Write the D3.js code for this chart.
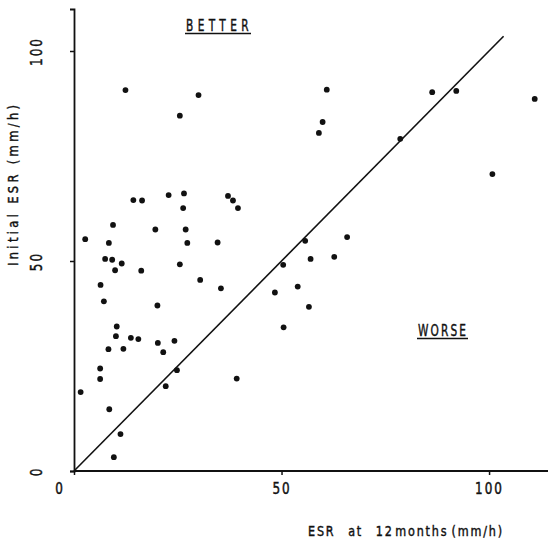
<!DOCTYPE html>
<html>
<head>
<meta charset="utf-8">
<script src="https://cdn.jsdelivr.net/npm/d3@7"></script>
<style>
  body { margin: 0; background: #fff; }
  svg { display: block; }
  text { font-family: "DejaVu Sans", "Liberation Sans", sans-serif; fill: #111; stroke: #111; stroke-width: 0.45; }
</style>
</head>
<body>
<div id="chart"></div>
<script>
// ESR at 12 months (x) vs initial ESR (y), mm/h
const esr12 = [
  14.3, 16.4, 22.8, 26.5, 37.1, 38.3, 39.5, 26.3, 9.4, 19.6, 26.9, 2.7, 8.4, 27.3, 34.6,
  7.5, 9.2, 11.5, 9.9, 16.2, 25.5, 30.4, 35.4, 6.4, 7.2, 20.1, 10.3,
  10.1, 13.7, 15.5, 8.3, 11.9, 20.2, 21.5, 24.2, 24.8, 22.1, 6.3, 6.3, 1.6, 8.5, 11.2, 9.6, 39.2,
  12.4, 30.0, 25.5,
  60.9, 59.9, 59.0, 86.3, 92.1, 111.0, 78.6, 100.8, 55.7, 65.8, 57.0, 62.7, 50.4,
  48.4, 53.9, 56.6, 50.5
];
const esrInitial = [
  64.5, 64.4, 65.7, 66.1, 65.5, 64.4, 62.6, 62.6, 58.6, 57.5, 57.5, 55.2, 54.3, 54.3, 54.4,
  50.5, 50.3, 49.4, 47.8, 47.7, 49.2, 45.5, 43.5, 44.3, 40.4, 39.4, 34.4,
  32.1, 31.7, 31.4, 29.0, 29.1, 30.5, 28.3, 31.0, 24.0, 20.2, 24.4, 21.9, 18.8, 14.7, 8.8, 3.3, 22.0,
  90.7, 89.5, 84.6,
  90.8, 83.1, 80.5, 90.2, 90.5, 88.6, 79.1, 70.7, 54.8, 55.7, 50.5, 51.0, 49.1,
  42.5, 43.9, 39.1, 34.2
];
const xTicks = [0, 50, 100];
const yTicks = [0, 50, 100];
const lineEnd = 103.5; // line of identity drawn from 0 to here

const width = 548, height = 539;
const x = d3.scaleLinear().domain([0, 114.2]).range([74, 548]);
const y = d3.scaleLinear().domain([0, 110]).range([471, 9]);

const svg = d3.select("#chart").append("svg").attr("width", width).attr("height", height);

// stencil-like lettering: narrow glyphs, letter-spaced out to a given width
function label(transform, size, squeeze) {
  return svg.append("g").attr("transform", `${transform} scale(${squeeze},1)`)
    .append("text")
    .attr("font-size", size)
    .attr("letter-spacing", 0);
}
function spread(t, squeeze, len) {
  const n = t.text().length;
  const w = t.node().getBBox().width;
  t.attr("letter-spacing", Math.max(0, (len / squeeze - w) / (n - 1)));
  return t;
}

// axes
const xAxis = svg.append("g").attr("transform", `translate(0,${y(0)})`)
  .call(d3.axisBottom(x).tickValues(xTicks).tickSize(4).tickPadding(8));
const yAxis = svg.append("g").attr("transform", `translate(${x(0)},0)`)
  .call(d3.axisLeft(y).tickValues(yTicks).tickSize(4).tickPadding(0));

[xAxis, yAxis].forEach((g) => {
  g.select(".domain").attr("stroke", "#111").attr("stroke-width", 1.8);
  g.selectAll(".tick line").attr("stroke", "#111").attr("stroke-width", 1.5);
  g.selectAll(".tick text").attr("font-size", 15).attr("letter-spacing", 2.5)
    .style("font-family", '"DejaVu Sans", sans-serif');
});
xAxis.select(".domain").attr("d", `M${x(0)},0H${width}`);
xAxis.selectAll(".tick text")
  .attr("transform", "scale(0.8,1)")
  .attr("x", (d) => (d === 0 ? -18 : 0));

// y tick labels are rotated to read upward
yAxis.selectAll(".tick text")
  .attr("x", null).attr("dy", null)
  .attr("text-anchor", "middle")
  .attr("transform", "translate(-37,0) rotate(-90) translate(0,5) scale(0.8,1)");

// line of equality
svg.append("line")
  .attr("x1", x(0)).attr("y1", y(0))
  .attr("x2", x(lineEnd)).attr("y2", y(lineEnd))
  .attr("stroke", "#111").attr("stroke-width", 1.6);

// points
svg.append("g").selectAll("circle")
  .data(esr12.map((v, i) => [v, esrInitial[i]]))
  .join("circle")
  .attr("cx", (d) => x(d[0]))
  .attr("cy", (d) => y(d[1]))
  .attr("r", 2.9)
  .attr("fill", "#111");

// region labels
function underlined(text, x0, x1, cy) {
  spread(label(`translate(${x0},${cy})`, 16, 0.66).text(text), 0.66, x1 - x0);
  svg.append("line")
    .attr("x1", x0 - 1).attr("x2", x1 + 2)
    .attr("y1", cy + 2.5).attr("y2", cy + 2.5)
    .attr("stroke", "#111").attr("stroke-width", 1.6);
}
underlined("BETTER", 186, 249, 31);
underlined("WORSE", 418, 466, 336);

// axis titles
const xTitle = label("translate(308,536)", 14, 0.8);
xTitle.append("tspan").text("ESR");
xTitle.append("tspan").attr("dx", 16).text("at");
xTitle.append("tspan").attr("dx", 16).text("12");
xTitle.append("tspan").attr("dx", 2).text("months");
xTitle.append("tspan").attr("dx", 4).text("(mm/h)");
spread(xTitle, 0.8, 194);

spread(label("translate(18,266) rotate(-90)", 14, 0.82).text("Initial ESR (mm/h)"), 0.82, 161);
</script>
</body>
</html>
